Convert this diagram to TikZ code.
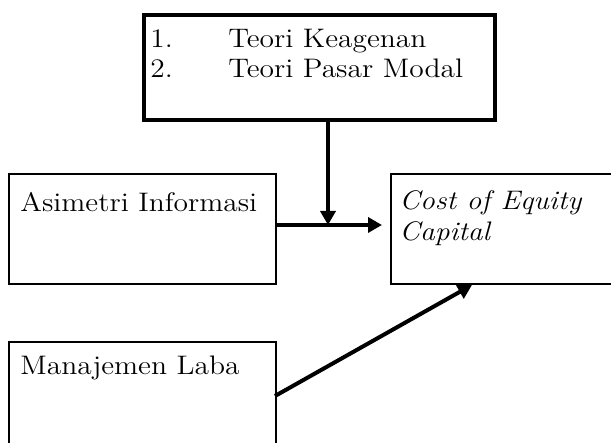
\documentclass[tikz,border=0pt]{standalone}
\usepackage{fontspec}
\setmainfont{Latin Modern Roman}[FakeStretch=1.1]
\usetikzlibrary{arrows.meta}
\begin{document}
\begin{tikzpicture}[x=0.5pt,y=-0.5pt,
  thickbox/.style={draw, line width=2pt, rectangle, inner sep=0pt, anchor=north west},
  thinbox/.style={draw, line width=1.15pt, rectangle, inner sep=0pt, anchor=north west},
  txt/.style={anchor=base west, inner sep=0pt, font=\fontsize{13.4}{16}\selectfont},
  arr/.style={line width=2pt, -{Triangle[length=7pt,width=7.5pt]}}]
\useasboundingbox (0,0) rectangle (611,443);
% boxes
\node[thickbox, minimum width=175.5pt, minimum height=52.5pt] (theory) at (142,13) {};
\node[thinbox, minimum width=133.5pt, minimum height=55pt] (asi) at (8,173) {};
\node[thinbox, minimum width=120pt, minimum height=55pt] (cost) at (390,173) {};
\node[thinbox, minimum width=133.5pt, minimum height=70pt] (man) at (8,341) {};
% texts
\node[txt] (n1) at (150,48) {1.};
\node[txt] (t1) at (228,48) {Teori Keagenan};
\node[txt] (n2) at (150,78) {2.};
\node[txt] (t2) at (228,78) {Teori Pasar Modal};
\node[txt] (asitxt) at (20,212) {Asimetri Informasi};
\node[txt] (costtxt1) at (399,210) {\makebox[91pt][s]{\itshape Cost of Equity}};
\node[txt] (costtxt2) at (399,241) {\itshape Capital};
\node[txt] (mantxt) at (20,375) {Manajemen Laba};
% connectors
\coordinate (j) at (328,225);
\coordinate (mstart) at (275,396);
\coordinate (mtip) at (472,285);
\draw[arr] (theory.south -| j) -- (j);
\draw[arr, shorten >=4pt] (asi.east |- j) -- (cost.west |- j);
\draw[arr] (mstart) -- (mtip);
\end{tikzpicture}
\end{document}
